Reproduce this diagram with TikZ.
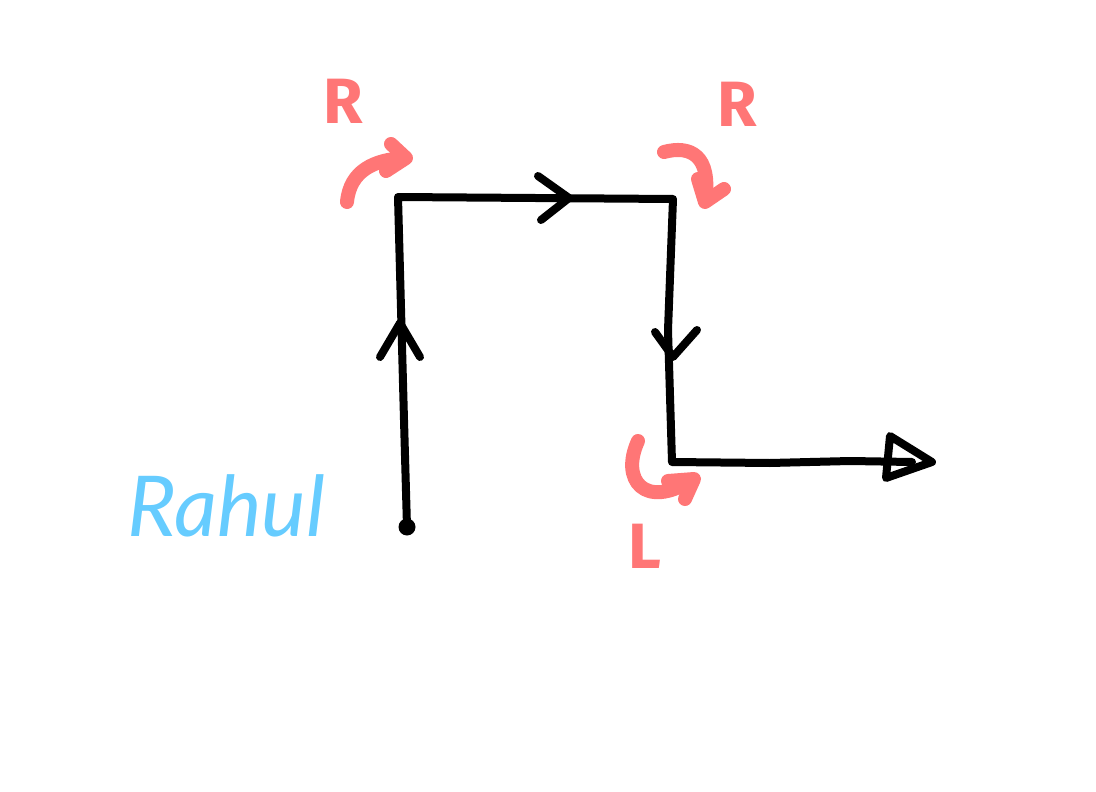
\documentclass[tikz,border=0pt]{standalone}
\usepackage{fontspec}
\setmainfont{Fira Sans}
\newfontfamily\handfont{Lato}
\definecolor{redpen}{HTML}{FF7676}
\definecolor{bluepen}{HTML}{66CCFF}
\begin{document}
\begin{tikzpicture}[x=1pt,y=-1pt,
  blackpen/.style={draw=black,line width=8pt,line cap=round,line join=round},
  redstroke/.style={draw=redpen,line width=14pt,line cap=round,line join=round},
  redlabel/.style={text=redpen,font=\fontsize{64}{68}\selectfont\bfseries,inner sep=0pt},
  namelabel/.style={text=bluepen,font=\handfont\fontsize{84}{90}\selectfont\itshape,inner sep=0pt}]
\useasboundingbox[fill=white] (0,0) rectangle (1096,792);
% path corners
\coordinate (start) at (407,527);
\coordinate (c1) at (398,197);
\coordinate (c2) at (673,199);
\coordinate (c3) at (672,462);
\coordinate (endp) at (930,462);
\fill (start) circle (8.5);
\draw[blackpen] (start) -- (404,420) -- (c1) -- (c2) -- (668,330) -- (c3) -- (770,463) -- (850,461) -- (912,462);
% chevrons
\draw[blackpen] (380,357) -- (400,323) -- (420,357);
\draw[blackpen] (538,176) -- (569,198) -- (541,220);
\draw[blackpen] (655,332) -- (673,357) -- (697,330);
% open triangle head
\draw[blackpen] (890,436) -- (932,462) -- (886,478) -- cycle;
% red curved arrows
\draw[redstroke] (347,202) .. controls (350,170) and (375,160) .. (403,158);
\draw[redstroke] (391,144) -- (406,158) -- (386,171);
\draw[redstroke] (664,152) .. controls (690,145) and (712,155) .. (705,201);
\draw[redstroke] (698,179) -- (705,202) -- (724,189);
\draw[redstroke] (638,441) .. controls (620,480) and (645,510) .. (692,480);
\draw[redstroke] (668,481) -- (694,479) -- (685,499);
% labels
\node[redlabel] (r1) at (343,101) {R};
\node[redlabel] (r2) at (737,104) {R};
\node[redlabel] (l1) at (645,546) {L};
\node[namelabel] (name) at (226,506) {Rahul};
\end{tikzpicture}
\end{document}
